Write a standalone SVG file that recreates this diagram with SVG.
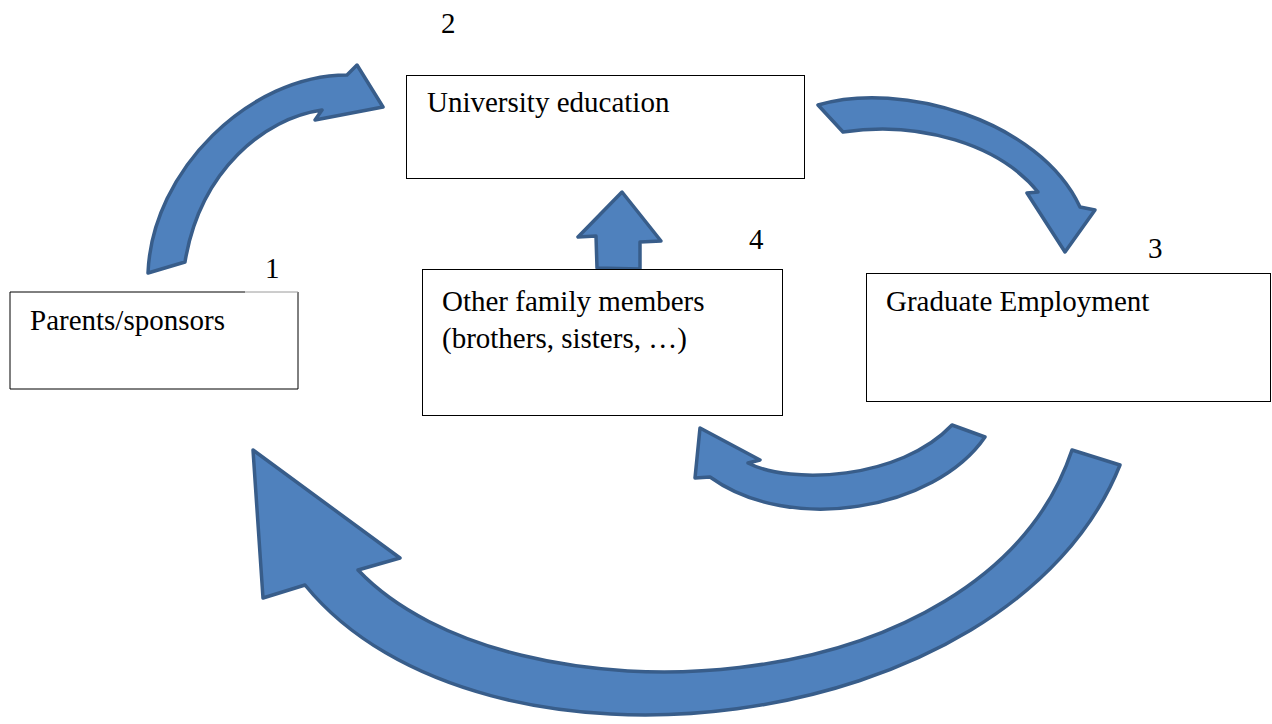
<svg xmlns="http://www.w3.org/2000/svg" width="1272" height="724" viewBox="0 0 1272 724">
  <style>
    .box { fill: #ffffff; stroke: #000000; stroke-width: 1; }
    .label { font-family: "Liberation Serif", "Times New Roman", serif; font-size: 29px; fill: #000000; }
    .arrow { fill: #4F81BD; stroke: #385D8A; stroke-width: 3.5; stroke-linejoin: round; }
  </style>
  <rect width="1272" height="724" fill="#ffffff"/>

  <!-- Connectors: block arrows -->
  <g id="connectors">
    <!-- Parents/sponsors to University education -->
    <path class="arrow" d="M148,273 C152,170 250,75 347,75 L357,65 L383,107 L315,120 L322,110 C265,118 200,170 185,262 Z"/>
    <!-- University education to Graduate Employment -->
    <path class="arrow" d="M818,105 C900,80 1040,120 1080,207 L1095,210 L1065,252 L1027,193 L1038,192 C1000,145 920,120 843,132 Z"/>
    <!-- Graduate Employment to Other family members -->
    <path class="arrow" d="M985,437 C935,510 790,535 710,477 L695,478 L700,428 L760,460 L748,463 C790,485 900,480 952,425 Z"/>
    <!-- Graduate Employment back to Parents/sponsors -->
    <path class="arrow" d="M1120,465 C1010,740 480,800 305,585 L263,598 L253,450 L400,558 L358,570 C510,730 985,710 1072,450 Z"/>
    <!-- Other family members up to University education -->
    <path class="arrow" d="M597,268 L640,269 L640,242 L661,241 L622,192 L578,237 L596,236 Z"/>
  </g>

  <!-- Node 1 -->
  <g id="node-parents">
    <rect x="10" y="292" width="288" height="97" fill="#ffffff" stroke="none"/>
    <path d="M245,292 L10,292 L10,389 L298,389 L298,292" fill="none" stroke="#000000" stroke-width="1"/>
    <line x1="245" y1="292" x2="298" y2="292" stroke="#9a9a9a" stroke-width="1"/>
    <text class="label" x="30" y="330">Parents/sponsors</text>
    <text class="label" x="265" y="278">1</text>
  </g>

  <!-- Node 2 -->
  <g id="node-university">
    <rect class="box" x="406.5" y="75.5" width="398" height="103"/>
    <text class="label" x="427" y="112">University education</text>
    <text class="label" x="441" y="33">2</text>
  </g>

  <!-- Node 3 -->
  <g id="node-employment">
    <rect class="box" x="866.5" y="273.5" width="404" height="128"/>
    <text class="label" x="886" y="311">Graduate Employment</text>
    <text class="label" x="1148" y="258">3</text>
  </g>

  <!-- Node 4 -->
  <g id="node-family">
    <rect class="box" x="422.5" y="269.5" width="360" height="146"/>
    <text class="label" x="442" y="311">Other family members</text>
    <text class="label" x="442" y="348">(brothers, sisters, …)</text>
    <text class="label" x="749" y="249">4</text>
  </g>
</svg>
